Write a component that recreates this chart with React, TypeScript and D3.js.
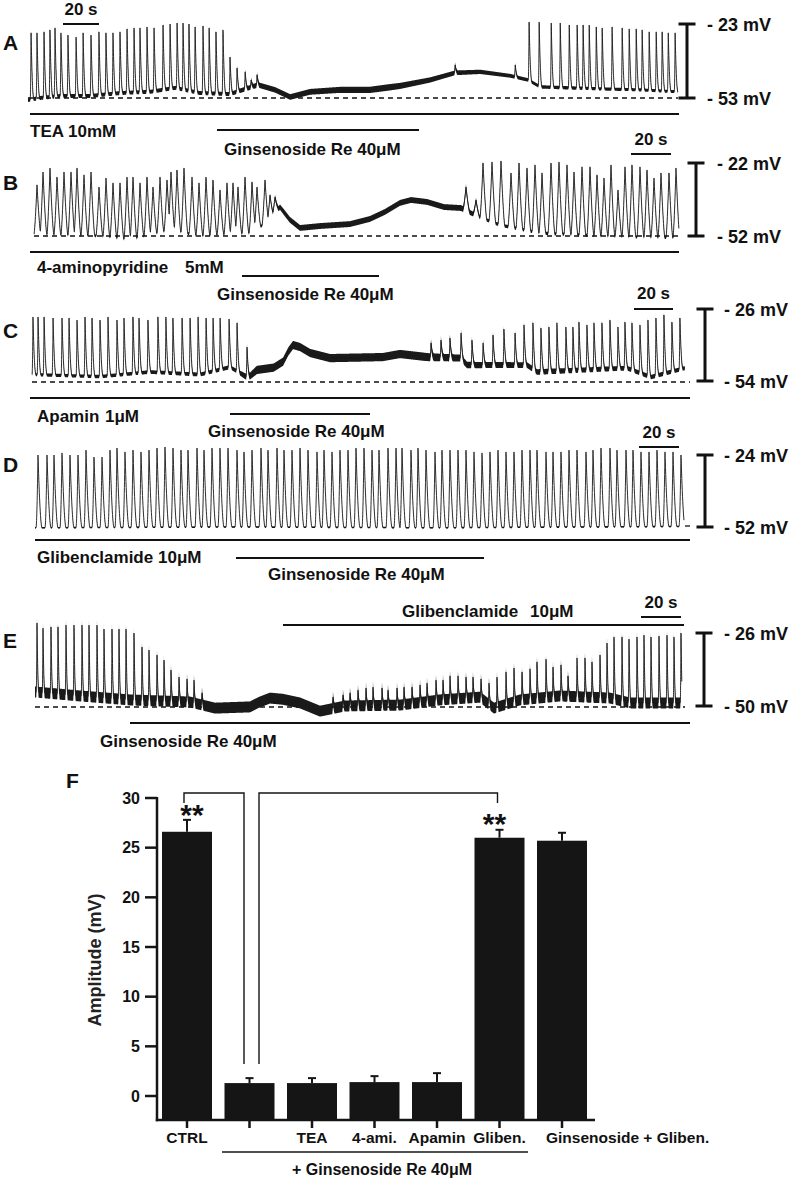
import React from 'react';
import * as d3 from 'd3';

type Pair = [number, number];

// ---------- Panel A (TEA) : [time s, mV] ----------
const aSpikes: Pair[] = [
  [1.7, -26.6], [5, -26.6], [8.9, -26.2], [12.2, -25.4], [15, -24.6], [18.3, -26.6], [22.2, -27.5], [26.7, -28.3],
  [30.6, -26.6], [35, -27.5], [39.4, -26.2], [43.3, -26.6], [47.2, -26.6], [51.1, -26.2], [55, -25], [58.9, -24.6],
  [62.2, -24.6], [66.1, -24.2], [70, -24.6], [75, -23.4], [78.9, -23], [82.8, -22.6], [86.1, -22.6], [89.4, -23],
  [92.8, -24.2], [97.2, -23.8], [100.6, -24.6], [104.4, -26.2], [108.3, -25.4], [112.2, -36.4], [116.1, -40.8],
  [120.6, -42.4], [123.9, -45.7], [127.2, -43.6], [237.2, -39.6], [270.6, -39.6], [278.3, -22.2], [283.9, -22.2],
  [290.6, -22.6], [295.6, -22.6], [300.6, -23.4], [305, -23.4], [308.3, -23.4], [311.7, -23.4], [315.6, -24.2],
  [318.9, -24.6], [324.4, -24.2], [330, -24.6], [333.9, -25], [337.8, -25], [341.1, -25.4], [345, -26.2],
  [348.9, -26.2], [352.2, -26.2], [355.6, -26.6], [359.4, -26.6],
];
const aBase: Pair[] = [
  [0, -53.8], [6.7, -53], [17.8, -52.2], [34.4, -52.2], [51.1, -51], [67.8, -50.5], [81.7, -48.9], [95.6, -51],
  [112.2, -51.4], [127.8, -47.7], [137.2, -49.7], [145.6, -52.6], [156.7, -50.5], [173.3, -49.7], [190, -49.7],
  [206.7, -48.1], [223.3, -45.7], [237.2, -42.8], [251.1, -42.4], [267.8, -44], [277.8, -45.7], [284.4, -48.5],
  [317.8, -49.3], [340, -49.7], [361.1, -50.5],
];
const aNoise: Pair[] = [[0, 0.8], [110, 0.8], [130, 1.1], [200, 1.3], [230, 1.0], [280, 0.7], [361, 0.6]];

// ---------- Panel B (4-aminopyridine) ----------
const bSpikes: Pair[] = [
  [1.5, -31], [4.5, -25.7], [8, -24.1], [11.5, -27.8], [15, -25.7], [18.5, -25.7], [21.5, -24.1], [25, -26.9],
  [28.5, -25.7], [32.5, -31.9], [36, -28.2], [39.5, -30.2], [43, -30.2], [46.5, -27.8], [49.5, -27.8], [53, -30.2],
  [56.5, -27.8], [59.5, -31.9], [63, -27.8], [66.5, -29], [68.5, -25.7], [71.5, -24.9], [75, -24.1], [79, -27.8],
  [82.5, -30.2], [86, -27.8], [89.5, -29], [93, -33.1], [96.5, -30.2], [99.5, -30.2], [102, -31.9], [105.5, -27.8],
  [109, -29.8], [111.5, -31.9], [115.5, -29], [118, -35.2], [120.5, -36],
  [216, -31.9], [221, -37.2],
  [224.5, -22], [229, -21.6], [233.5, -21.2], [238.5, -26.1], [242.5, -22], [246.5, -24.1], [250.5, -22.8],
  [254, -26.1], [258.5, -22], [262.5, -21.6], [266.5, -22.8], [270, -25.7], [274, -23.6], [278, -23.6],
  [281.5, -26.9], [285, -28.2], [288.5, -22.8], [292, -33.1], [295.5, -23.6], [299, -22.8], [303, -23.6],
  [306.5, -24.9], [310, -28.2], [313.5, -26.1], [317.5, -26.1], [321, -24.1],
];
const bBase: Pair[] = [
  [0, -51.2], [33, -52], [48, -53.6], [68, -49.5], [83, -52], [108, -50.8], [117, -46.2], [123, -40.1],
  [128, -45.4], [133, -48.7], [143, -47.9], [158, -47.1], [168, -45], [175.5, -42.1], [183, -38.4],
  [188.5, -37.2], [196.5, -38], [205, -40.1], [213.5, -40.5], [222.5, -44.2], [233, -47.5], [253, -50.8],
  [283, -52], [322.5, -52.8],
];
const bNoise: Pair[] = [[0, 0.5], [115, 0.6], [125, 1.2], [215, 1.2], [225, 0.7], [322.5, 0.6]];

// ---------- Panel C (Apamin) ----------
const cSpikes: Pair[] = [
  [0.5, -29.1], [3.1, -29.1], [6.2, -29.1], [10.8, -29.5], [15.4, -29.5], [19, -29.5], [23.1, -30.3], [27.2, -29.1],
  [30.8, -29.5], [34.9, -30.3], [39, -29.1], [43.6, -30.3], [47.2, -29.5], [51.8, -29.1], [54.9, -29.5],
  [59.5, -30.3], [64.6, -29.1], [68.7, -29.1], [72.3, -29.5], [77, -29.5], [81.1, -29.5], [85.2, -29.1],
  [89.3, -29.5], [92.9, -29.5], [96.5, -29.5], [101.1, -29.9], [105.2, -31.4], [110.3, -40.8],
  [204.7, -39.2], [209.8, -38.1], [214.4, -37.3], [220.1, -35.3], [225.7, -38.1], [231.4, -39.2], [236.5, -36.1],
  [242.1, -33.8], [247.8, -35.3], [252.4, -32.2], [257, -31.4], [261.1, -33.4], [265.2, -33], [269.3, -31.4],
  [273.9, -33], [277.5, -33], [280.6, -31.1], [284.7, -32.2], [288.3, -31.4], [292.4, -31.4], [296.5, -30.3],
  [300.6, -33], [304.2, -31.1], [307.8, -31.4], [311.9, -32.2], [316, -30.3], [320.1, -29.5], [324.2, -28.3],
  [328.3, -31.1], [332.4, -29.5],
];
const cBase: Pair[] = [
  [0, -51.5], [34.9, -52.3], [60.5, -50.5], [86.2, -51.5], [101.6, -48.6], [110.8, -52.8], [115.4, -49.7],
  [124, -48.8], [128.8, -46.5], [131.5, -42.5], [133.9, -40], [137.5, -40.8], [142.6, -43.1], [152.9, -45.1],
  [180, -44.7], [188.8, -43.5], [202.6, -44.7], [220.1, -45.1], [223.2, -47.8], [253.9, -47.8], [259.1, -50.5],
  [305.2, -49], [317.5, -52.5], [335, -49],
];
const cNoise: Pair[] = [[0, 0.6], [105, 0.8], [115, 1.6], [200, 1.6], [230, 1.2], [335, 0.8]];

// ---------- Panel D (Glibenclamide) ----------
const dSpikeTimes: number[] = [
  1.5, 6, 9.5, 13.5, 17.5, 21.5, 25.5, 29.5, 33.5, 37.5, 41, 45, 49, 53, 57, 61, 65, 69, 73, 76.5, 81, 84.5, 88.5,
  92.5, 96.5, 101, 104.5, 108.5, 113, 116.5, 121, 124.5, 128.5, 132.5, 136.5, 141, 144.5, 148.5, 152.5, 156.5,
  160.5, 164.5, 168.5, 172, 176.5, 180.5,
  183.5, 188, 191.5, 195.5, 200, 203.5, 207.5, 211.5, 215.5, 219.5, 223.5, 227.5, 231.5, 235.5, 239.5, 243.5,
  247.5, 251, 255.5, 259, 263, 267, 271, 275.5, 279, 283, 287.5, 291, 295.5, 299, 303, 307, 311, 315, 319, 323,
];
const dSpikePeaks: number[] = [
  -24, -24, -24, -23.2, -24, -24, -22.1, -24.8, -24.8, -22.1, -21.3, -22.8, -22.1, -22.8, -22.1, -21.3, -20.9,
  -21.3, -22.1, -22.1, -21.3, -22.1, -21.3, -21.3, -21.3, -22.1, -22.8, -22.1, -21.3, -22.1, -21.3, -22.1, -22.1,
  -21.3, -22.1, -22.8, -22.1, -22.8, -22.1, -22.1, -21.3, -21.3, -22.1, -22.1, -21.3, -21.3,
  -21.3, -22.1, -21.3, -22.1, -22.8, -22.1, -22.1, -22.1, -22.1, -22.8, -23.2, -22.8, -22.1, -22.8, -22.8, -22.1,
  -22.1, -22.1, -22.8, -22.8, -22.8, -22.1, -22.1, -22.8, -22.1, -21.3, -21.3, -22.1, -22.1, -22.1, -22.8, -22.8,
  -22.1, -22.8, -22.8, -24,
];
const dBase: Pair[] = [[0, -52.3], [100, -52], [200, -52.3], [324.5, -51.8]];
const dNoise: Pair[] = [[0, 0.3], [324.5, 0.3]];

// ---------- Panel E (Ginsenoside then Glibenclamide) ----------
const eSpikes: Pair[] = [
  [1, -22.7], [4, -24.4], [8, -24], [11.5, -24], [15.5, -23.4], [19.5, -23.4], [23.5, -23.4], [27, -23.4],
  [31, -23.4], [34.5, -24.7], [38.5, -24.7], [42, -24.7], [45.5, -24.7], [49.5, -26], [53.5, -30.6], [57, -31.6],
  [61, -33.2], [64.5, -34.9], [68, -38.2], [72, -40.5], [76, -41.1], [79.5, -41.5], [83.5, -45.7],
  [149, -47.1], [154, -46.4], [157.5, -45.7], [161.5, -44.8], [165.5, -44.1], [169, -43.8], [173.5, -44.1],
  [176.5, -44.8],
  [181, -44.1], [184.5, -43.8], [188.5, -43.8], [192.5, -43.1], [196, -42.5], [200.5, -41.5], [204, -41.5],
  [207.5, -40.1], [211.5, -40.1], [215.5, -40.5], [219, -40.5], [223, -41.1], [227, -42.5], [231, -40.5],
  [235.5, -38.8], [239.5, -37.5], [243.5, -38.8], [247.5, -37.8], [251, -35.5], [255.5, -34.6], [259, -37.2],
  [263, -36.5], [266.5, -40.1], [271, -34.2], [275, -34.2], [278.5, -35.5], [282.5, -33.2], [286, -29.3],
  [289.5, -27.3], [293.5, -27.3], [297, -28], [301, -27.3], [304.5, -26.7], [308, -27.3], [312, -27],
  [316, -26.7], [319.5, -27.3], [323, -26],
];
const eBase: Pair[] = [
  [0, -45.4], [22.5, -46.7], [47.5, -48], [77.5, -48.7], [90, -50.7], [107.5, -50.3], [112, -48.8], [117.5, -47.4],
  [124, -47.8], [132.5, -49], [142.5, -51.7], [155, -50], [182.5, -49.7], [202.5, -48], [222.5, -47.1],
  [229.5, -50.7], [242.5, -48], [262.5, -46.7], [287.5, -47.4], [297.5, -49], [323.5, -49],
];
const eNoise: Pair[] = [[0, 1.8], [323.5, 1.8]];

// ---------- Panel F (bar chart) ----------
const barCategories = ['CTRL', '', 'TEA', '4-ami.', 'Apamin', 'Gliben.', 'Ginsenoside + Gliben.'];
const barMeans = [26.6, 1.3, 1.3, 1.4, 1.4, 26.0, 25.7];
const barErrors = [1.2, 0.5, 0.5, 0.6, 0.9, 0.8, 0.8];
const yTickValues = [0, 5, 10, 15, 20, 25, 30];

const FONT = "'Liberation Sans', Arial, Helvetica, sans-serif";

interface TraceCfg {
  spikes: Pair[];
  base: Pair[];
  noise: Pair[];
  dur: number;
  x0: number; x1: number;
  mvTop: number; mvBot: number; yTop: number; yBot: number;
  rise: number; decay: number; power: number;
}

function Trace({ cfg }: { cfg: TraceCfg }) {
  const x = d3.scaleLinear().domain([0, cfg.dur]).range([cfg.x0, cfg.x1]);
  const y = d3.scaleLinear().domain([cfg.mvBot, cfg.mvTop]).range([cfg.yBot, cfg.yTop]);
  const base = d3.scaleLinear().domain(cfg.base.map((d) => d[0])).range(cfg.base.map((d) => d[1])).clamp(true);
  const noise = d3.scaleLinear().domain(cfg.noise.map((d) => d[0])).range(cfg.noise.map((d) => d[1])).clamp(true);
  const step = 0.12;
  const times: number[] = d3.range(0, cfg.dur + 1e-9, step);
  cfg.spikes.forEach(([t]) => times.push(t));
  times.sort((a, b) => a - b);
  const pts = times.map((t) => {
    let sp = 0;
    for (const [tp, vp] of cfg.spikes) {
      const dt = t - tp;
      if (dt < -cfg.rise || dt > cfg.decay) continue;
      const amp = vp - base(tp);
      const u = dt < 0 ? 1 + dt / cfg.rise : 1 - dt / cfg.decay;
      const c = amp * Math.pow(u, cfg.power);
      if (c > sp) sp = c;
    }
    return { t, v: base(t) + sp, n: noise(t) };
  });
  const line = d3.line<{ t: number; v: number; n: number }>().x((d) => x(d.t)).y((d) => y(d.v)).curve(d3.curveMonotoneX);
  const area = d3
    .area<{ t: number; v: number; n: number }>()
    .x((d) => x(d.t))
    .y0((d) => y(d.v - d.n))
    .y1((d) => y(d.v + d.n))
    .curve(d3.curveMonotoneX);
  return (
    <g>
      <path d={area(pts) || ''} fill="#1a1a1a" />
      <path d={line(pts) || ''} fill="none" stroke="#1a1a1a" strokeWidth={0.9} />
    </g>
  );
}

function ScaleBar({ x, y1, y2, lx, top, bottom }: { x: number; y1: number; y2: number; lx: number; top: string; bottom: string }) {
  return (
    <g>
      <line x1={x} x2={x} y1={y1} y2={y2} stroke="#111" strokeWidth={3} />
      <line x1={x - 8.5} x2={x + 8.5} y1={y1} y2={y1} stroke="#111" strokeWidth={3} />
      <line x1={x - 8.5} x2={x + 8.5} y1={y2} y2={y2} stroke="#111" strokeWidth={3} />
      <text x={lx} y={y1 + 7} fontSize={18} fontWeight="bold" fontFamily={FONT} fill="#111">{top}</text>
      <text x={lx} y={y2 + 6.5} fontSize={18} fontWeight="bold" fontFamily={FONT} fill="#111">{bottom}</text>
    </g>
  );
}

function TimeBar({ x1, x2, y, ty }: { x1: number; x2: number; y: number; ty: number }) {
  return (
    <g>
      <text x={(x1 + x2) / 2} y={ty} textAnchor="middle" fontSize={17} fontWeight="bold" fontFamily={FONT} fill="#111">20 s</text>
      <line x1={x1} x2={x2} y1={y} y2={y} stroke="#111" strokeWidth={2} />
    </g>
  );
}

function Label({ x, y, children, size = 17 }: { x: number; y: number; children: React.ReactNode; size?: number }) {
  return (
    <text x={x} y={y} fontSize={size} fontWeight="bold" fontFamily={FONT} fill="#111">{children}</text>
  );
}

function HLine({ x1, x2, y, w = 2, dash }: { x1: number; x2: number; y: number; w?: number; dash?: string }) {
  return <line x1={x1} x2={x2} y1={y} y2={y} stroke="#111" strokeWidth={w} strokeDasharray={dash} />;
}

function BarChart() {
  const xb = d3.scaleBand<number>().domain(d3.range(barCategories.length)).range([155.75, 593.25]).paddingInner(0.2).paddingOuter(0.1);
  const y = d3.scaleLinear().domain([0, 30]).range([1096, 798]);
  const axisY = 1120;
  const cx = (i: number) => (xb(i) as number) + xb.bandwidth() / 2;
  return (
    <g fontFamily={FONT} fill="#111">
      <text x={66} y={788} fontSize={21} fontWeight="bold">F</text>
      {barMeans.map((m, i) => (
        <g key={i}>
          <rect x={xb(i)} y={y(m)} width={xb.bandwidth()} height={axisY - y(m)} fill="#151515" />
          <line x1={cx(i)} x2={cx(i)} y1={y(m)} y2={y(m + barErrors[i])} stroke="#151515" strokeWidth={2} />
          <line x1={cx(i) - 4} x2={cx(i) + 4} y1={y(m + barErrors[i])} y2={y(m + barErrors[i])} stroke="#151515" strokeWidth={2} />
          <line x1={cx(i)} x2={cx(i)} y1={axisY} y2={axisY + 8} stroke="#151515" strokeWidth={2.5} />
        </g>
      ))}
      <line x1={157} x2={157} y1={y(30) - 1} y2={axisY + 1.2} stroke="#151515" strokeWidth={2.5} />
      <line x1={155.8} x2={595} y1={axisY} y2={axisY} stroke="#151515" strokeWidth={2.5} />
      {yTickValues.map((t) => (
        <g key={t}>
          <line x1={145} x2={157} y1={y(t)} y2={y(t)} stroke="#151515" strokeWidth={2.5} />
          <text x={140} y={y(t) + 5.8} textAnchor="end" fontSize={16} fontWeight="bold">{t}</text>
        </g>
      ))}
      <text transform="translate(101,960) rotate(-90)" textAnchor="middle" fontSize={18} fontWeight="bold" fill="#222">Amplitude (mV)</text>
      {barCategories.map((c, i) => (
        <text key={i} x={i === 6 ? 546 : cx(i)} y={1143} textAnchor={i === 6 ? 'start' : 'middle'} fontSize={15.5} fontWeight="bold">{c}</text>
      ))}
      <line x1={222} x2={528} y1={1152} y2={1152} stroke="#151515" strokeWidth={1.5} />
      <text x={382} y={1175} textAnchor="middle" fontSize={16} fontWeight="bold">+ Ginsenoside Re 40μM</text>
      <path d={`M${cx(0) - 3},803 V793 H244 V1064`} fill="none" stroke="#151515" strokeWidth={1.4} />
      <path d={`M259,1064 V793 H${cx(5) - 2} V803`} fill="none" stroke="#151515" strokeWidth={1.4} />
      <text x={cx(0) + 5} y={825} textAnchor="middle" fontSize={30} fontWeight="bold">**</text>
      <text x={cx(5) - 5} y={834} textAnchor="middle" fontSize={30} fontWeight="bold">**</text>
    </g>
  );
}

export default function App() {
  const A: TraceCfg = { spikes: aSpikes, base: aBase, noise: aNoise, dur: 361, x0: 28, x1: 678, mvTop: -23, mvBot: -53, yTop: 24, yBot: 98, rise: 0.5, decay: 1.6, power: 2.2 };
  const B: TraceCfg = { spikes: bSpikes, base: bBase, noise: bNoise, dur: 322.5, x0: 34, x1: 679, mvTop: -22, mvBot: -52, yTop: 163, yBot: 236, rise: 1.5, decay: 1.9, power: 1.4 };
  const C: TraceCfg = { spikes: cSpikes, base: cBase, noise: cNoise, dur: 335, x0: 32, x1: 685, mvTop: -26, mvBot: -54, yTop: 309, yBot: 381, rise: 0.5, decay: 1.6, power: 2.2 };
  const dPairs: Pair[] = dSpikeTimes.map((t, i) => [t, dSpikePeaks[Math.min(i, dSpikePeaks.length - 1)]]);
  const D: TraceCfg = { spikes: dPairs, base: dBase, noise: dNoise, dur: 324.5, x0: 35, x1: 684, mvTop: -24, mvBot: -52, yTop: 455, yBot: 527, rise: 1.0, decay: 2.0, power: 1.8 };
  const E: TraceCfg = { spikes: eSpikes, base: eBase, noise: eNoise, dur: 323.5, x0: 35, x1: 682, mvTop: -26, mvBot: -50, yTop: 633, yBot: 706, rise: 0.4, decay: 0.9, power: 2 };

  return (
    <svg width={794} height={1180} viewBox="0 0 794 1180" style={{ position: 'absolute', left: 0, top: 0, background: '#fff' }}>
      <rect width={794} height={1180} fill="#fff" />
      {/* Panel A */}
      <Label x={3} y={50} size={21}>A</Label>
      <TimeBar x1={63} x2={99} y={24} ty={15} />
      <HLine x1={28} x2={678} y={98} w={1.3} dash="5,4" />
      <Trace cfg={A} />
      <ScaleBar x={687} y1={24} y2={98} lx={707} top="- 23 mV" bottom="- 53 mV" />
      <HLine x1={30} x2={679} y={114} />
      <Label x={30} y={137}>TEA 10mM</Label>
      <HLine x1={217} x2={419} y={130} />
      <Label x={224} y={155}>Ginsenoside Re 40μM</Label>

      {/* Panel B */}
      <Label x={3} y={190} size={21}>B</Label>
      <TimeBar x1={631} x2={671} y={154} ty={145} />
      <HLine x1={34} x2={679} y={236} w={1.3} dash="5,4" />
      <Trace cfg={B} />
      <ScaleBar x={696} y1={163} y2={236} lx={717} top="- 22 mV" bottom="- 52 mV" />
      <HLine x1={30} x2={679} y={252} />
      <Label x={37} y={273}>4-aminopyridine</Label>
      <Label x={185} y={273}>5mM</Label>
      <HLine x1={242} x2={379} y={276} />
      <Label x={217} y={300}>Ginsenoside Re 40μM</Label>

      {/* Panel C */}
      <Label x={3} y={338} size={21}>C</Label>
      <TimeBar x1={634} x2={673} y={309} ty={299} />
      <HLine x1={32} x2={690} y={382} w={1.3} dash="5,4" />
      <Trace cfg={C} />
      <ScaleBar x={705} y1={309} y2={381} lx={724} top="- 26 mV" bottom="- 54 mV" />
      <HLine x1={30} x2={690} y={398} />
      <Label x={37} y={422}>Apamin</Label>
      <Label x={105} y={422}>1μM</Label>
      <HLine x1={230} x2={370} y={414} />
      <Label x={208} y={437}>Ginsenoside Re 40μM</Label>

      {/* Panel D */}
      <Label x={3} y={472} size={21}>D</Label>
      <TimeBar x1={639} x2={679} y={447} ty={438} />
      <Trace cfg={D} />
      <HLine x1={685} x2={690} y={526} w={1.3} />
      <ScaleBar x={705} y1={455} y2={527} lx={724} top="- 24 mV" bottom="- 52 mV" />
      <HLine x1={35} x2={690} y={540} />
      <Label x={37} y={563}>Glibenclamide</Label>
      <Label x={158} y={563}>10μM</Label>
      <HLine x1={236} x2={484} y={558} />
      <Label x={268} y={580}>Ginsenoside Re 40μM</Label>

      {/* Panel E */}
      <Label x={3} y={648} size={21}>E</Label>
      <Label x={402} y={617}>Glibenclamide</Label>
      <Label x={530} y={617}>10μM</Label>
      <HLine x1={283} x2={684} y={625} />
      <TimeBar x1={641} x2={681} y={617} ty={608} />
      <HLine x1={35} x2={685} y={707} w={1.3} dash="5,4" />
      <Trace cfg={E} />
      <ScaleBar x={704} y1={633} y2={706} lx={724} top="- 26 mV" bottom="- 50 mV" />
      <HLine x1={130} x2={690} y={723} />
      <Label x={100} y={747}>Ginsenoside Re 40μM</Label>

      {/* Panel F */}
      <BarChart />
    </svg>
  );
}
